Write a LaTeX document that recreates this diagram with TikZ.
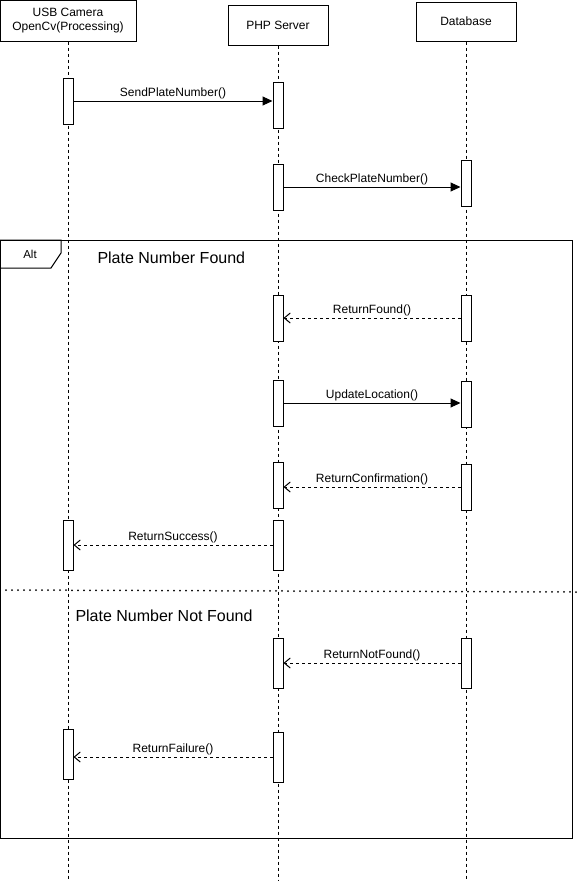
\documentclass[tikz,border=0pt]{standalone}
\usepackage{fontspec}
\setmainfont{Liberation Sans}
\usetikzlibrary{positioning,arrows.meta}
\tikzset{
	actor/.style={draw, fill=white, align=center, inner sep=0pt, font=\fontsize{12}{14}\selectfont},
	life/.style={dash pattern=on 3pt off 3pt},
	act/.style={draw, fill=white, minimum width=10pt, inner sep=0pt},
	call/.style={-{Triangle[length=10pt,width=9pt]}},
	reply/.style={dash pattern=on 3pt off 3pt, -{Straight Barb[length=6pt,width=10pt]}},
	msg/.style={midway, above=1pt, inner sep=1pt, font=\fontsize{12}{14}\selectfont},
	title/.style={anchor=west, inner sep=0pt, font=\fontsize{16}{19}\selectfont},
	sep/.style={line width=2pt, dash pattern=on 0pt off 6pt, line cap=round},
}
\begin{document}
\begin{tikzpicture}[x=1pt, y=-1pt, line width=1pt]
	\useasboundingbox (0,0) rectangle (576,881);
	\node[actor, minimum width=136pt, minimum height=41pt] (cam) at (68,20.5) {USB Camera\\OpenCv(Processing)};
	\node[actor, minimum width=100pt, minimum height=40pt] (php) at (278,25) {PHP Server};
	\node[actor, minimum width=100pt, minimum height=39pt] (db) at (466,21.5) {Database};
	\node[draw, anchor=north west, inner sep=0pt, minimum width=572pt, minimum height=598pt] (alt) at (0,240) {};
	\draw (alt.north west) -- ++(61,0) -- ++(0,13) -- ++(-10,15) -- ++(-51,0);
	\node[font=\fontsize{11.5}{13}\selectfont] (altlbl) at (30,254) {Alt};
	\node[title] (found) at (97,258) {Plate Number Found};
	\node[title] (notfound) at (75,616) {Plate Number Not Found};
	\draw[sep] (0,590) -- (576,592);
	\coordinate (camend) at (cam.south |- 0,881);
	\coordinate (phpend) at (php.south |- 0,881);
	\coordinate (dbend) at (db.south |- 0,881);
	\draw[life] (cam.south) -- (camend);
	\draw[life] (php.south) -- (phpend);
	\draw[life] (db.south) -- (dbend);
	\node[act, minimum height=46pt] (ca1) at (cam.south |- 0,101) {};
	\node[act, minimum height=46pt] (pa1) at (php.south |- 0,105) {};
	\node[act, minimum height=46pt] (pa2) at (php.south |- 0,187) {};
	\node[act, minimum height=46pt] (da1) at (db.south |- 0,183) {};
	\node[act, minimum height=46pt] (pa3) at (php.south |- 0,318) {};
	\node[act, minimum height=46pt] (da2) at (db.south |- 0,318) {};
	\node[act, minimum height=46pt] (pa4) at (php.south |- 0,403) {};
	\node[act, minimum height=46pt] (da3) at (db.south |- 0,404) {};
	\node[act, minimum height=46pt] (pa5) at (php.south |- 0,485) {};
	\node[act, minimum height=46pt] (da4) at (db.south |- 0,487) {};
	\node[act, minimum height=50pt] (ca2) at (cam.south |- 0,545) {};
	\node[act, minimum height=50pt] (pa6) at (php.south |- 0,545) {};
	\node[act, minimum height=50pt] (pa7) at (php.south |- 0,663) {};
	\node[act, minimum height=50pt] (da5) at (db.south |- 0,663) {};
	\node[act, minimum height=50pt] (ca3) at (cam.south |- 0,754) {};
	\node[act, minimum height=50pt] (pa8) at (php.south |- 0,757) {};
	\draw[call] (ca1.east) -- (pa1.west |- ca1.east) node[msg] {SendPlateNumber()};
	\draw[call] (pa2.east) -- (da1.west |- pa2.east) node[msg] {CheckPlateNumber()};
	\draw[reply] (da2.west) -- (pa3.east |- da2.west) node[msg] {ReturnFound()};
	\draw[call] (pa4.east) -- (da3.west |- pa4.east) node[msg] {UpdateLocation()};
	\draw[reply] (da4.west) -- (pa5.east |- da4.west) node[msg] {ReturnConfirmation()};
	\draw[reply] (pa6.west) -- (ca2.east |- pa6.west) node[msg] {ReturnSuccess()};
	\draw[reply] (da5.west) -- (pa7.east |- da5.west) node[msg] {ReturnNotFound()};
	\draw[reply] (pa8.west) -- (ca3.east |- pa8.west) node[msg] {ReturnFailure()};
\end{tikzpicture}
\end{document}
